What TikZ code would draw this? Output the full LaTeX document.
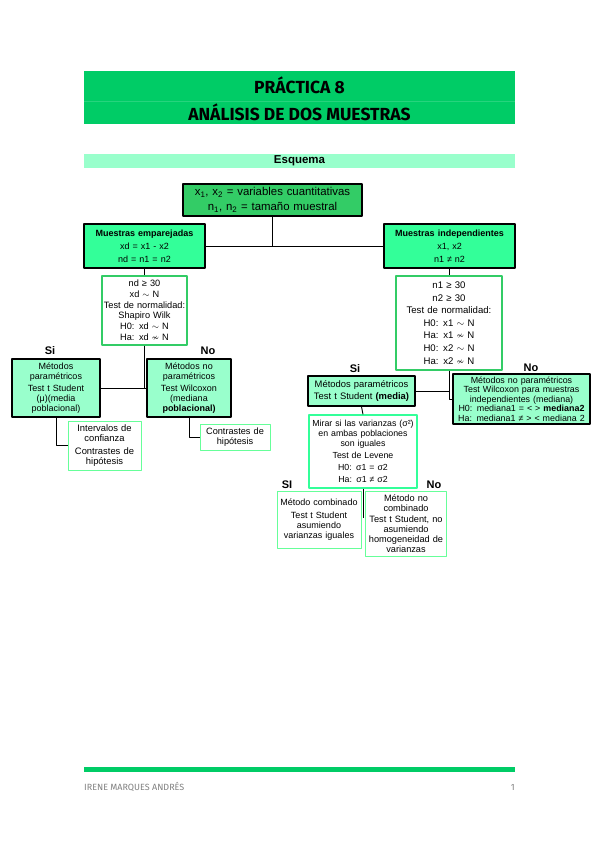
\documentclass[tikz,border=0pt]{standalone}
\usepackage{fontspec}
\usepackage{amssymb}
\setmainfont{Liberation Sans}
\newfontfamily\titlefont{Fira Sans}
\usetikzlibrary{positioning}
\definecolor{titlegreen}{HTML}{00CC66}
\definecolor{mintbar}{HTML}{99FFCC}
\definecolor{midgreen}{HTML}{33CC66}
\definecolor{brightgreen}{HTML}{33FF99}
\definecolor{palemint}{HTML}{99FFCC}
\definecolor{edgegreen}{HTML}{33CC66}
\definecolor{edgelight}{HTML}{66FF99}
\definecolor{footgray}{HTML}{7F7F7F}
\begin{document}
\begin{tikzpicture}[x=1pt,y=-1pt,line join=round]
\tikzset{
  boxbase/.style={align=center,inner sep=0.5pt,font=\fontsize{9.2}{10.4}\selectfont},
  topbox/.style={boxbase,draw=black,line width=1.4pt,fill=midgreen,font=\fontsize{11.4}{15.5}\selectfont},
  levelbox/.style={boxbase,draw=black,line width=1.4pt,fill=brightgreen,font=\fontsize{9}{13}\selectfont},
  methodbox/.style={boxbase,draw=black,line width=1.4pt,fill=palemint},
  testbox/.style={boxbase,draw=edgegreen,line width=1.2pt,fill=white},
  notebox/.style={boxbase,draw=edgelight,line width=1pt,fill=white},
  answer/.style={font=\fontsize{11}{12}\selectfont\bfseries,inner sep=0pt},
  link/.style={draw=black,line width=0.9pt}
}
\useasboundingbox (0,0) rectangle (599,848);
% cabecera
\fill[titlegreen] (84,71) rectangle (515,124);
\draw[titlegreen!85!white,line width=0.4pt] (84,101) -- (515,101);
\node[font=\titlefont\fontsize{17.5}{18}\selectfont\bfseries] (tit1) at (299.5,85) {PRÁCTICA 8};
\node[font=\titlefont\fontsize{17.5}{18}\selectfont\bfseries] (tit2) at (299.5,112) {ANÁLISIS DE DOS MUESTRAS};
\fill[mintbar] (84,154) rectangle (515,168);
\node[font=\fontsize{11.5}{12}\selectfont\bfseries] (esq) at (299.5,161) {Esquema};
% esquema
\node[topbox,minimum width=179pt,minimum height=32pt,text width=175pt] (vars) at (272.5,200)
  {x\textsubscript{1}, x\textsubscript{2} = variables cuantitativas\\n\textsubscript{1}, n\textsubscript{2} = tamaño muestral};
\node[levelbox,minimum width=121pt,minimum height=44pt,text width=117pt] (emp) at (144.5,246)
  {\textbf{Muestras emparejadas}\\xd = x1 - x2\\nd = n1 = n2};
\node[levelbox,minimum width=131pt,minimum height=44pt,text width=127pt] (ind) at (449.5,246)
  {\textbf{Muestras independientes}\\x1, x2\\n1 ≠ n2};
\node[testbox,minimum width=85pt,minimum height=69pt,text width=83pt,font=\fontsize{9.2}{9.8}\selectfont] (normL) at (144.5,310.5)
  {nd ≥ 30\\[1.2pt]xd $\sim$ N\\[1.2pt]Test de normalidad:\\Shapiro Wilk\\[1.2pt]H0: xd $\sim$ N\\[1.2pt]Ha: xd $\nsim$ N};
\node[testbox,minimum width=106pt,minimum height=94pt,text width=104pt,font=\fontsize{9.6}{12.6}\selectfont] (normR) at (449,323)
  {n1 ≥ 30\\n2 ≥ 30\\Test de normalidad:\\H0: x1 $\sim$ N\\Ha: x1 $\nsim$ N\\H0: x2 $\sim$ N\\Ha: x2 $\nsim$ N};
\node[methodbox,minimum width=88pt,minimum height=58pt,text width=86pt,font=\fontsize{9}{10}\selectfont] (parL) at (56,388)
  {Métodos\\paramétricos\\[1.5pt]Test t Student\\(μ)(media\\poblacional)};
\node[methodbox,minimum width=84pt,minimum height=58pt,text width=82pt,font=\fontsize{9}{10}\selectfont] (noparL) at (189,388)
  {Métodos no\\paramétricos\\[1.5pt]Test Wilcoxon\\(mediana\\\textbf{poblacional)}};
\node[notebox,minimum width=73pt,minimum height=49pt,text width=71pt,font=\fontsize{9.4}{10.2}\selectfont] (ic) at (104.5,445.5)
  {Intervalos de\\confianza\\[2pt]Contrastes de\\hipótesis};
\node[notebox,minimum width=70pt,minimum height=26pt,text width=68pt,font=\fontsize{9.2}{10}\selectfont] (contL) at (235,437)
  {Contrastes de\\hipótesis};
\node[methodbox,minimum width=107pt,minimum height=30pt,text width=105pt,font=\fontsize{9.4}{12.5}\selectfont] (parR) at (361.5,391)
  {Métodos paramétricos\\Test t Student \textbf{(media)}};
\node[methodbox,minimum width=137pt,minimum height=50pt,text width=135pt,font=\fontsize{8.9}{9.6}\selectfont] (noparR) at (521.5,399)
  {Métodos no paramétricos\\Test Wilcoxon para muestras\\independientes (mediana)\\H0: mediana1 = < > \textbf{mediana2}\\Ha: mediana1 ≠ > < mediana 2};
\node[notebox,draw=brightgreen,line width=1.3pt,minimum width=108pt,minimum height=73pt,text width=106pt,font=\fontsize{8.8}{9.8}\selectfont] (lev) at (363,451.5)
  {Mirar si las varianzas (σ²)\\en ambas poblaciones\\son iguales\\[2.5pt]Test de Levene\\[2.5pt]H0: σ1 = σ2\\[2.5pt]Ha: σ1 ≠ σ2};
\node[notebox,minimum width=84pt,minimum height=57pt,text width=82pt,font=\fontsize{9}{10}\selectfont] (comb) at (319,519.5)
  {Método combinado\\[3pt]Test t Student\\asumiendo\\varianzas iguales};
\node[notebox,minimum width=80pt,minimum height=65pt,text width=80pt,font=\fontsize{9.2}{9.8}\selectfont] (ncomb) at (406,523.5)
  {Método no\\combinado\\[1.5pt]Test t Student, no\\asumiendo\\homogeneidad de\\varianzas};
% respuestas
\node[answer] (siL) at (50,351) {Si};
\node[answer] (noL) at (208,351) {No};
\node[answer] (siR) at (355,369) {Si};
\node[answer] (noR) at (531,368) {No};
\node[answer] (siV) at (287,485) {SI};
\node[answer] (noV) at (434,485) {No};
% conexiones
\coordinate (levEnd) at (363,518);
\path[link] (vars.south) -- (vars.south |- emp.east);
\path[link] (emp.east) -- (ind.west);
\path[link] (emp.south) -- (normL.north);
\path[link] (ind.south) -- (ind.south |- normR.north);
\path[link] (normL.south) -- (normL.south |- parL.east);
\path[link] (parL.east) -- (noparL.west);
\path[link] (parL.south) |- (ic.west);
\path[link] (noparL.south) |- (contL.west);
\path[link] (normR.south) |- (noparR.west);
\path[link] (parR.east) -- (parR.east -| normR.south);
\path[link] (parR.south) -- (lev.north);
\path[link] (lev.south) -- (levEnd);
% pie
\fill[titlegreen] (84,767) rectangle (515,772);
\node[anchor=west,text=footgray,font=\titlefont\fontsize{9}{10}\selectfont,inner sep=0pt] (autor) at (84,787) {IRENE MARQUES ANDRÉS};
\node[anchor=east,text=footgray,font=\titlefont\fontsize{9}{10}\selectfont,inner sep=0pt] (pag) at (515,787) {1};
\end{tikzpicture}
\end{document}
